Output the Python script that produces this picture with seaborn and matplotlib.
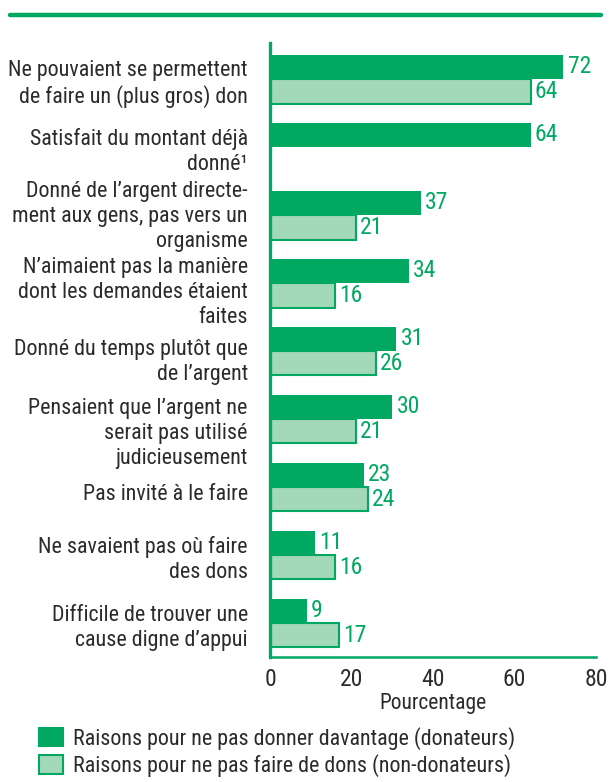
import matplotlib
matplotlib.use('Agg')
import matplotlib.pyplot as plt
import matplotlib.transforms as mtransforms
from matplotlib.lines import Line2D
from matplotlib.patches import Patch
import numpy as np
import pandas as pd
import seaborn as sns

# ---- données ----
raisons = [
    "Ne pouvaient se permettent\nde faire un (plus gros) don",
    "Satisfait du montant déjà\ndonné\u00b9",
    "Donné de l\u2019argent directe-\nment aux gens, pas vers un\norganisme",
    "N\u2019aimaient pas la manière\ndont les demandes étaient\nfaites",
    "Donné du temps plutôt que\nde l\u2019argent",
    "Pensaient que l\u2019argent ne\nserait pas utilisé\njudicieusement",
    "Pas invité à le faire",
    "Ne savaient pas où faire\ndes dons",
    "Difficile de trouver une\ncause digne d\u2019appui",
]
donateurs = [72, 64, 37, 34, 31, 30, 23, 11, 9]
non_donateurs = [64, np.nan, 21, 16, 26, 21, 24, 16, 17]
groupes = ["Raisons pour ne pas donner davantage (donateurs)",
           "Raisons pour ne pas faire de dons (non-donateurs)"]
xticks = [0, 20, 40, 60, 80]

# décalage vertical des libellés (pixels, positif = vers le bas)
decalage_libelles = [0, 0, -3, 5, 6, 10, 5, 0, 0]

VERT = "#00a862"
VERT_CLAIR = "#a3d8b8"
TEXTE = "#2b2b2b"

df = pd.concat([
    pd.DataFrame({"raison": raisons, "pct": donateurs, "groupe": groupes[0]}),
    pd.DataFrame({"raison": raisons, "pct": non_donateurs, "groupe": groupes[1]}),
]).dropna()

sns.set_style("white")
plt.rcParams['font.family'] = ['Roboto Condensed', 'Roboto', 'DejaVu Sans']

fig = plt.figure(figsize=(6.10, 7.82), dpi=100)
ax = fig.add_axes([270 / 610, 1 - 657 / 782, 326 / 610, (657 - 43) / 782])

sns.barplot(data=df, x="pct", y="raison", hue="groupe", order=raisons,
            hue_order=groupes, palette=[VERT, VERT_CLAIR], width=0.72,
            orient="h", legend=False, ax=ax, saturation=1)

for i, cont in enumerate(ax.containers):
    for p in cont:
        p.set_edgecolor(VERT)
        p.set_linewidth(0 if i == 0 else 1.5)
    labels = ["" if np.isnan(v) else f"{v:.0f}" for v in cont.datavalues]
    ax.bar_label(cont, labels=labels, padding=3, color=VERT, fontsize=17)

ax.set_xlim(0, 80)
ax.set_ylim(8.5, -0.53)
ax.set_xticks(xticks)
ax.set_xlabel("Pourcentage", fontsize=15.5, color=TEXTE, labelpad=1)
ax.set_ylabel("")

for s in ["top", "right"]:
    ax.spines[s].set_visible(False)
ax.spines["left"].set_color(VERT)
ax.spines["left"].set_linewidth(2.4)
ax.spines["bottom"].set_color(VERT)
ax.spines["bottom"].set_linewidth(1.8)

ax.tick_params(axis="x", direction="in", length=7, width=1.6, color=VERT,
               labelsize=17, labelcolor=TEXTE, pad=8)
ax.tick_params(axis="y", length=0, labelsize=15.8, labelcolor=TEXTE, pad=16)
for t, d in zip(ax.get_yticklabels(), decalage_libelles):
    t.set_linespacing(1.25)
    if d:
        t.set_transform(t.get_transform() + mtransforms.ScaledTranslation(
            0, -d / 100, fig.dpi_scale_trans))

# ligne verte en haut
fig.add_artist(Line2D([10 / 610, 601 / 610], [1 - 15 / 782] * 2,
                      color=VERT, linewidth=3.2, transform=fig.transFigure))

handles = [Patch(facecolor=VERT, edgecolor=VERT, linewidth=1.5),
           Patch(facecolor=VERT_CLAIR, edgecolor=VERT, linewidth=1.5)]
fig.legend(handles, groupes, loc="upper left",
           bbox_to_anchor=(30 / 610, 1 - 718 / 782), frameon=False,
           fontsize=15.8, handlelength=1.1, handleheight=0.9,
           handletextpad=0.45, labelspacing=0.2, labelcolor=TEXTE,
           borderaxespad=0)

fig.savefig("out.png", dpi=100)
